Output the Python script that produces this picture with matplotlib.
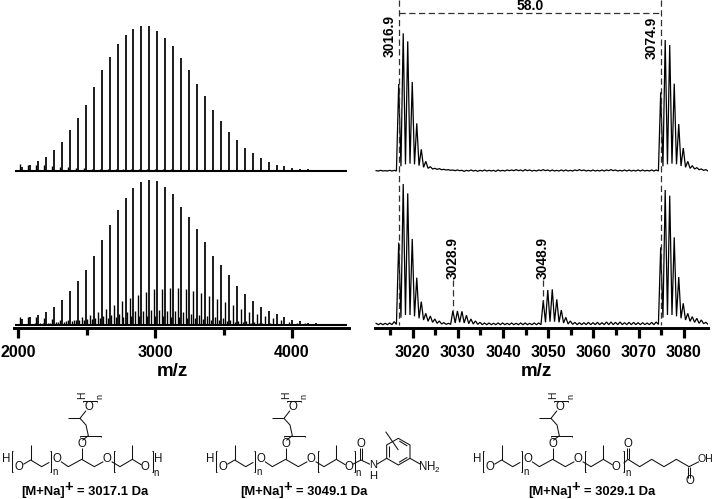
import numpy as np
import matplotlib
matplotlib.use("Agg")
import matplotlib.pyplot as plt
from matplotlib.transforms import blended_transform_factory

plt.rcParams['font.family'] = ['Liberation Sans', 'DejaVu Sans']
plt.rcParams['mathtext.fontset'] = 'custom'
plt.rcParams['mathtext.rm'] = 'Liberation Sans'

W, H = 714, 499

# ---------- data: overview spectra (intensity in arbitrary units) ----------
overview_start = 2030.9
overview_step = 58.0
top_main = [13, 18, 29, 42, 63, 86, 123, 158, 198, 251, 303, 341, 381, 409, 425, 435, 435, 420, 399, 376,
            340, 302, 260, 224, 183, 151, 117, 93, 69, 53, 38, 27, 18, 15, 10, 7, 5, 3, 2]
top_minor = [20, 18, 18, 17, 15, 12, 12, 9, 8, 7, 6, 6, 6, 6, 6, 5, 5, 5, 5, 5, 4, 4, 3, 3, 2, 2, 2]
bot_main = [18, 23, 31, 38, 55, 75, 102, 132, 165, 207, 254, 300, 345, 380, 410, 430, 435, 432, 413, 393,
            353, 325, 288, 248, 208, 180, 151, 116, 93, 71, 54, 42, 32, 23, 16, 11, 7, 5, 4]
bot_minor = [25, 25, 24, 20, 18, 15, 14, 15, 16, 18, 20, 22, 24, 25, 26, 27, 27, 27, 26, 25,
             24, 22, 20, 18, 16, 14, 12, 10, 8, 6, 5, 4, 3, 2, 2, 2, 1, 1, 1]
bot_acid = [3, 4, 5, 6, 8, 10, 12, 15, 18, 22, 26, 30, 34, 38, 41, 43, 44, 44, 43, 41,
            38, 34, 31, 27, 23, 20, 16, 13, 11, 9, 7, 5, 4, 3, 2, 2, 1, 1, 1]
bot_amine = [4, 5, 6, 7, 9, 12, 16, 23, 30, 39, 48, 60, 72, 80, 90, 100, 108, 109, 110, 110,
             108, 102, 96, 87, 78, 68, 59, 49, 40, 33, 28, 20, 15, 10, 7, 5, 4, 3, 2]

# ---------- data: zoomed spectra, peak and following valley at each nominal mass ----------
iso_start = 3011.9
rt_peaks = [1, 2, 1, 2, 2, 261, 413, 389, 267, 143, 65, 29, 13, 8, 7, 5, 4, 3, 3, 2,
            2, 3, 2, 2, 3, 2, 2, 3, 2, 3, 3, 4, 3, 4, 3, 2, 3, 4, 3, 3,
            2, 3, 3, 2, 3, 4, 3, 2, 3, 2, 3, 3, 4, 3, 2, 3, 3, 2, 3, 3,
            2, 3, 3, 236, 393, 378, 262, 141, 69, 29, 16, 10, 6, 4, 2]
rt_valleys = [0, 0, 0, 0, 0, 14, 20, 22, 20, 16, 11, 8, 6, 5, 4, 3, 2, 1, 1, -1,
              0, 0, -1, 0, 0, 0, -1, 0, 0, 1, 1, 1, 0, 1, 0, 0, 1, 1, 0, 0,
              0, 0, 0, 0, 1, 1, 0, 0, 0, 0, 0, 1, 1, 0, 0, 0, 0, 0, 0, 0,
              0, 0, 0, 14, 20, 22, 20, 15, 11, 8, 6, 4, 2, 0, 0]
rb_peaks = [5, 5, 5, 6, 10, 247, 423, 395, 258, 142, 70, 35, 27, 18, 12, 7, 5, 43, 42, 41,
            29, 18, 12, 8, 6, 6, 5, 6, 6, 5, 6, 5, 6, 6, 5, 6, 6, 73, 105, 107,
            77, 45, 23, 12, 8, 7, 7, 8, 7, 8, 7, 9, 9, 8, 9, 7, 8, 8, 7, 7,
            6, 8, 9, 233, 405, 388, 263, 144, 65, 35, 25, 20, 15, 8, 5]
rb_valleys = [1, 1, 1, 1, 2, 22, 30, 30, 26, 20, 15, 11, 8, 5, 3, 2, 2, 6, 8, 6,
              4, 3, 2, 1, 1, 1, 1, 1, 1, 1, 1, 1, 1, 1, 1, 1, 1, 8, 10, 10,
              8, 6, 3, 2, 1, 1, 1, 1, 1, 1, 1, 1, 1, 1, 1, 1, 1, 1, 1, 1,
              1, 1, 2, 22, 30, 30, 26, 20, 15, 11, 8, 5, 4, 2, 1]

left_ticks = [2000, 3000, 4000]
left_minor = [2500, 3500]
right_ticks = [3020, 3030, 3040, 3050, 3060, 3070, 3080]
right_minor = [3015, 3025, 3035, 3045, 3055, 3065, 3075]
mass_labels = ['3016.9', '3074.9', '3028.9', '3048.9']
formula_labels = ['3017.1', '3049.1', '3029.1']


def axes_px(x0, y0, x1, y1):
    return fig.add_axes([x0 / W, 1 - y1 / H, (x1 - x0) / W, (y1 - y0) / H])


fig = plt.figure(figsize=(W / 100, H / 100), dpi=100, facecolor='white')

# x limits from the reference tick positions
lx = lambda px: 2000 + (px - 18) / 0.137
rx = lambda px: 3020 + (px - 412.7) / 4.517

ax_lt = axes_px(14, 0, 349, 175)
ax_lb = axes_px(14, 175, 349, 328)
ax_rt = axes_px(375, 0, 708, 175)
ax_rb = axes_px(375, 175, 708, 328)

for ax in (ax_lt, ax_lb):
    ax.set_xlim(lx(14), lx(349))
for ax in (ax_rt, ax_rb):
    ax.set_xlim(rx(375), rx(708))
for ax in (ax_lt, ax_rt):
    ax.set_ylim(-12, 513)
    ax.axis('off')
for ax in (ax_lb, ax_rb):
    ax.set_ylim(-9, 450)
    ax.patch.set_alpha(0)
    for s in ('top', 'left', 'right'):
        ax.spines[s].set_visible(False)
    ax.spines['bottom'].set_linewidth(2.1)
    ax.yaxis.set_visible(False)
    ax.tick_params(axis='x', which='major', length=7.2, width=2.3, pad=5,
                   labelsize=11.6)
    ax.tick_params(axis='x', which='minor', length=5, width=2.3)

main_mz = overview_start + overview_step * np.arange(len(top_main))

# overview, top
ax_lt.hlines(0, lx(15), lx(347), color='black', lw=1.5)
ax_lt.vlines(main_mz, 0, top_main, color='black', lw=1.25)
ax_lt.vlines(main_mz[:len(top_minor)] - 15, 0, top_minor, color='black', lw=1.0)

# overview, bottom
ax_lb.hlines(0, lx(15), lx(347), color='black', lw=1.5)
ax_lb.vlines(main_mz, 0, bot_main, color='black', lw=1.25)
ax_lb.vlines(main_mz - 15, 0, bot_minor, color='black', lw=1.0)
ax_lb.vlines(main_mz + 12, 0, bot_acid, color='black', lw=1.0)
ax_lb.vlines(main_mz + 32, 0, bot_amine, color='black', lw=1.0)
ax_lb.set_xticks(left_ticks)
ax_lb.set_xticks(left_minor, minor=True)
ax_lb.set_xticklabels([str(t) for t in left_ticks], fontweight='bold')


def profile(peaks, valleys):
    m = iso_start + np.arange(len(peaks))
    xs = np.column_stack([m, m + 0.5]).ravel()
    ys = np.column_stack([peaks, valleys]).ravel()
    return xs, ys


ax_rt.plot(*profile(rt_peaks, rt_valleys), color='black', lw=0.9, solid_joinstyle='miter')
ax_rb.plot(*profile(rb_peaks, rb_valleys), color='black', lw=0.9, solid_joinstyle='miter')
ax_rb.set_xticks(right_ticks)
ax_rb.set_xticks(right_minor, minor=True)
ax_rb.set_xticklabels([str(t) for t in right_ticks], fontweight='bold')

# overlay in reference pixels for annotations and structures
ov = fig.add_axes([0, 0, 1, 1], facecolor='none')
ov.set_xlim(0, W)
ov.set_ylim(H, 0)
ov.axis('off')
tr = blended_transform_factory(ax_rb.transData, ov.transData)
dash = (0, (5, 2.8))
dcol = '#303030'
for m, y0, y1 in [(3016.9, 0, 325), (3074.9, 0, 325), (3028.9, 280, 310), (3048.9, 280, 302)]:
    ov.plot([m, m], [y0, y1], transform=tr, color=dcol, lw=0.9, ls=dash)
ov.plot([3016.9, 3074.9], [13, 13], transform=tr, color=dcol, lw=0.9, ls=dash)
ov.text(0.5 * (3016.9 + 3074.9), 6, '58.0', transform=tr, ha='center', va='center',
        fontsize=10, fontweight='bold')
for lab, x, yc in zip(mass_labels, [390, 652, 452.7, 543], [36, 37.5, 258, 258]):
    ov.text(x, yc, lab, rotation=90, ha='center', va='center', fontsize=9.9, fontweight='bold')
ov.text(172, 372, 'm/z', ha='center', va='center', fontsize=13.5, fontweight='bold')
ov.text(536, 372, 'm/z', ha='center', va='center', fontsize=13.5, fontweight='bold')


# ---------- chemical structures (zoomed reference coordinates: 3 units = 1 px) ----------
def bonds(dx, segs):
    for seg in segs:
        a = np.array(seg, float)
        ov.plot(a[:, 0] / 3 + dx, a[:, 1] / 3 + 365, color='#111111', lw=0.75,
                solid_capstyle='butt', solid_joinstyle='miter')


def atom(dx, x, y, s, fs=8.3, **kw):
    ov.text(x / 3 + dx, y / 3 + 365, s, ha='center', va='center', fontsize=fs, color='#111111', **kw)


core = [
    [(40, 258), (36, 258), (36, 322), (40, 322)],
    [(70, 298), (92, 285), (125, 305), (148, 292)],
    [(92, 285), (92, 240)],
    [(150, 258), (154, 258), (154, 322), (150, 322)],
    [(183, 290), (205, 305), (245, 283), (283, 305), (310, 290)],
    [(245, 283), (245, 250)],
    [(247, 226), (265, 212), (258, 180), (240, 160), (258, 137)],
    [(205, 160), (240, 160)],
    [(240, 216), (240, 212), (303, 212), (303, 216)],
    [(250, 112), (250, 107), (290, 107), (290, 112)],
    [(346, 258), (342, 258), (342, 322), (346, 322)],
    [(335, 290), (360, 305), (397, 283), (425, 300)],
    [(397, 283), (397, 240)],
]


def core_atoms(dx):
    atom(dx, 20, 283, 'H')
    atom(dx, 58, 305, 'O')
    atom(dx, 165, 322, 'n', fs=7)
    atom(dx, 170, 283, 'O')
    atom(dx, 245, 238, 'O')
    atom(dx, 322, 283, 'O')
    atom(dx, 267, 125, 'O')
    atom(dx, 246, 90, 'H', fs=7.5, rotation=90)
    atom(dx, 301, 95, 'n', fs=6.5, rotation=90)
    atom(dx, 435, 305, 'O')


def formula(x, val):
    ov.text(x, 492, '[M+Na]', ha='left', va='center', fontsize=9.4, fontweight='bold')
    ov.text(x + 47.5, 487.5, '+', ha='center', va='center', fontsize=10.5, fontweight='bold')
    ov.text(x + 56, 492, '= ' + val + ' Da', ha='left', va='center', fontsize=9.4, fontweight='bold')


# structure 1
bonds(0, core + [[(455, 258), (459, 258), (459, 322), (455, 322)]])
core_atoms(0)
atom(0, 475, 283, 'H')
atom(0, 468, 325, 'n', fs=7)
formula(21, formula_labels[0])

# structure 2
d2 = 204
bonds(d2, core + [[(450, 258), (454, 258), (454, 322), (450, 322)]])
core_atoms(d2)
atom(d2, 463, 325, 'n', fs=7)
tail2 = [
    [(446, 298), (471, 285), (498, 298)],
    [(468, 285), (468, 250)], [(474, 285), (474, 250)],
    [(518, 298), (548, 280), (548, 240), (583, 220), (618, 240), (618, 280), (583, 300), (548, 280)],
    [(556, 276), (556, 244)], [(586, 228), (610, 243)], [(610, 277), (585, 292)],
    [(618, 280), (650, 298)],
    [(545, 200), (583, 255)],
]
bonds(d2, tail2)
atom(d2, 471, 238, 'O')
atom(d2, 508, 301, 'N', fs=8)
atom(d2, 508, 332, 'H', fs=8)
atom(d2, 675, 307, 'NH$_2$', fs=8.3)
formula(240, formula_labels[1])

# structure 3
d3 = 471
bonds(d3, core + [[(455, 258), (459, 258), (459, 322), (455, 322)]])
core_atoms(d3)
atom(d3, 472, 325, 'n', fs=7)
tail3 = [
    [(458, 295), (471, 283), (506, 305), (542, 283), (579, 305), (616, 283), (654, 305), (684, 290)],
    [(468, 283), (468, 250)], [(474, 283), (474, 250)],
    [(651, 305), (651, 338)], [(657, 305), (657, 338)],
]
bonds(d3, tail3)
atom(d3, 471, 238, 'O')
atom(d3, 656, 348, 'O')
atom(d3, 704, 283, 'OH', fs=7.6)
formula(528, formula_labels[2])

fig.savefig('out.png', dpi=100, facecolor='white')
